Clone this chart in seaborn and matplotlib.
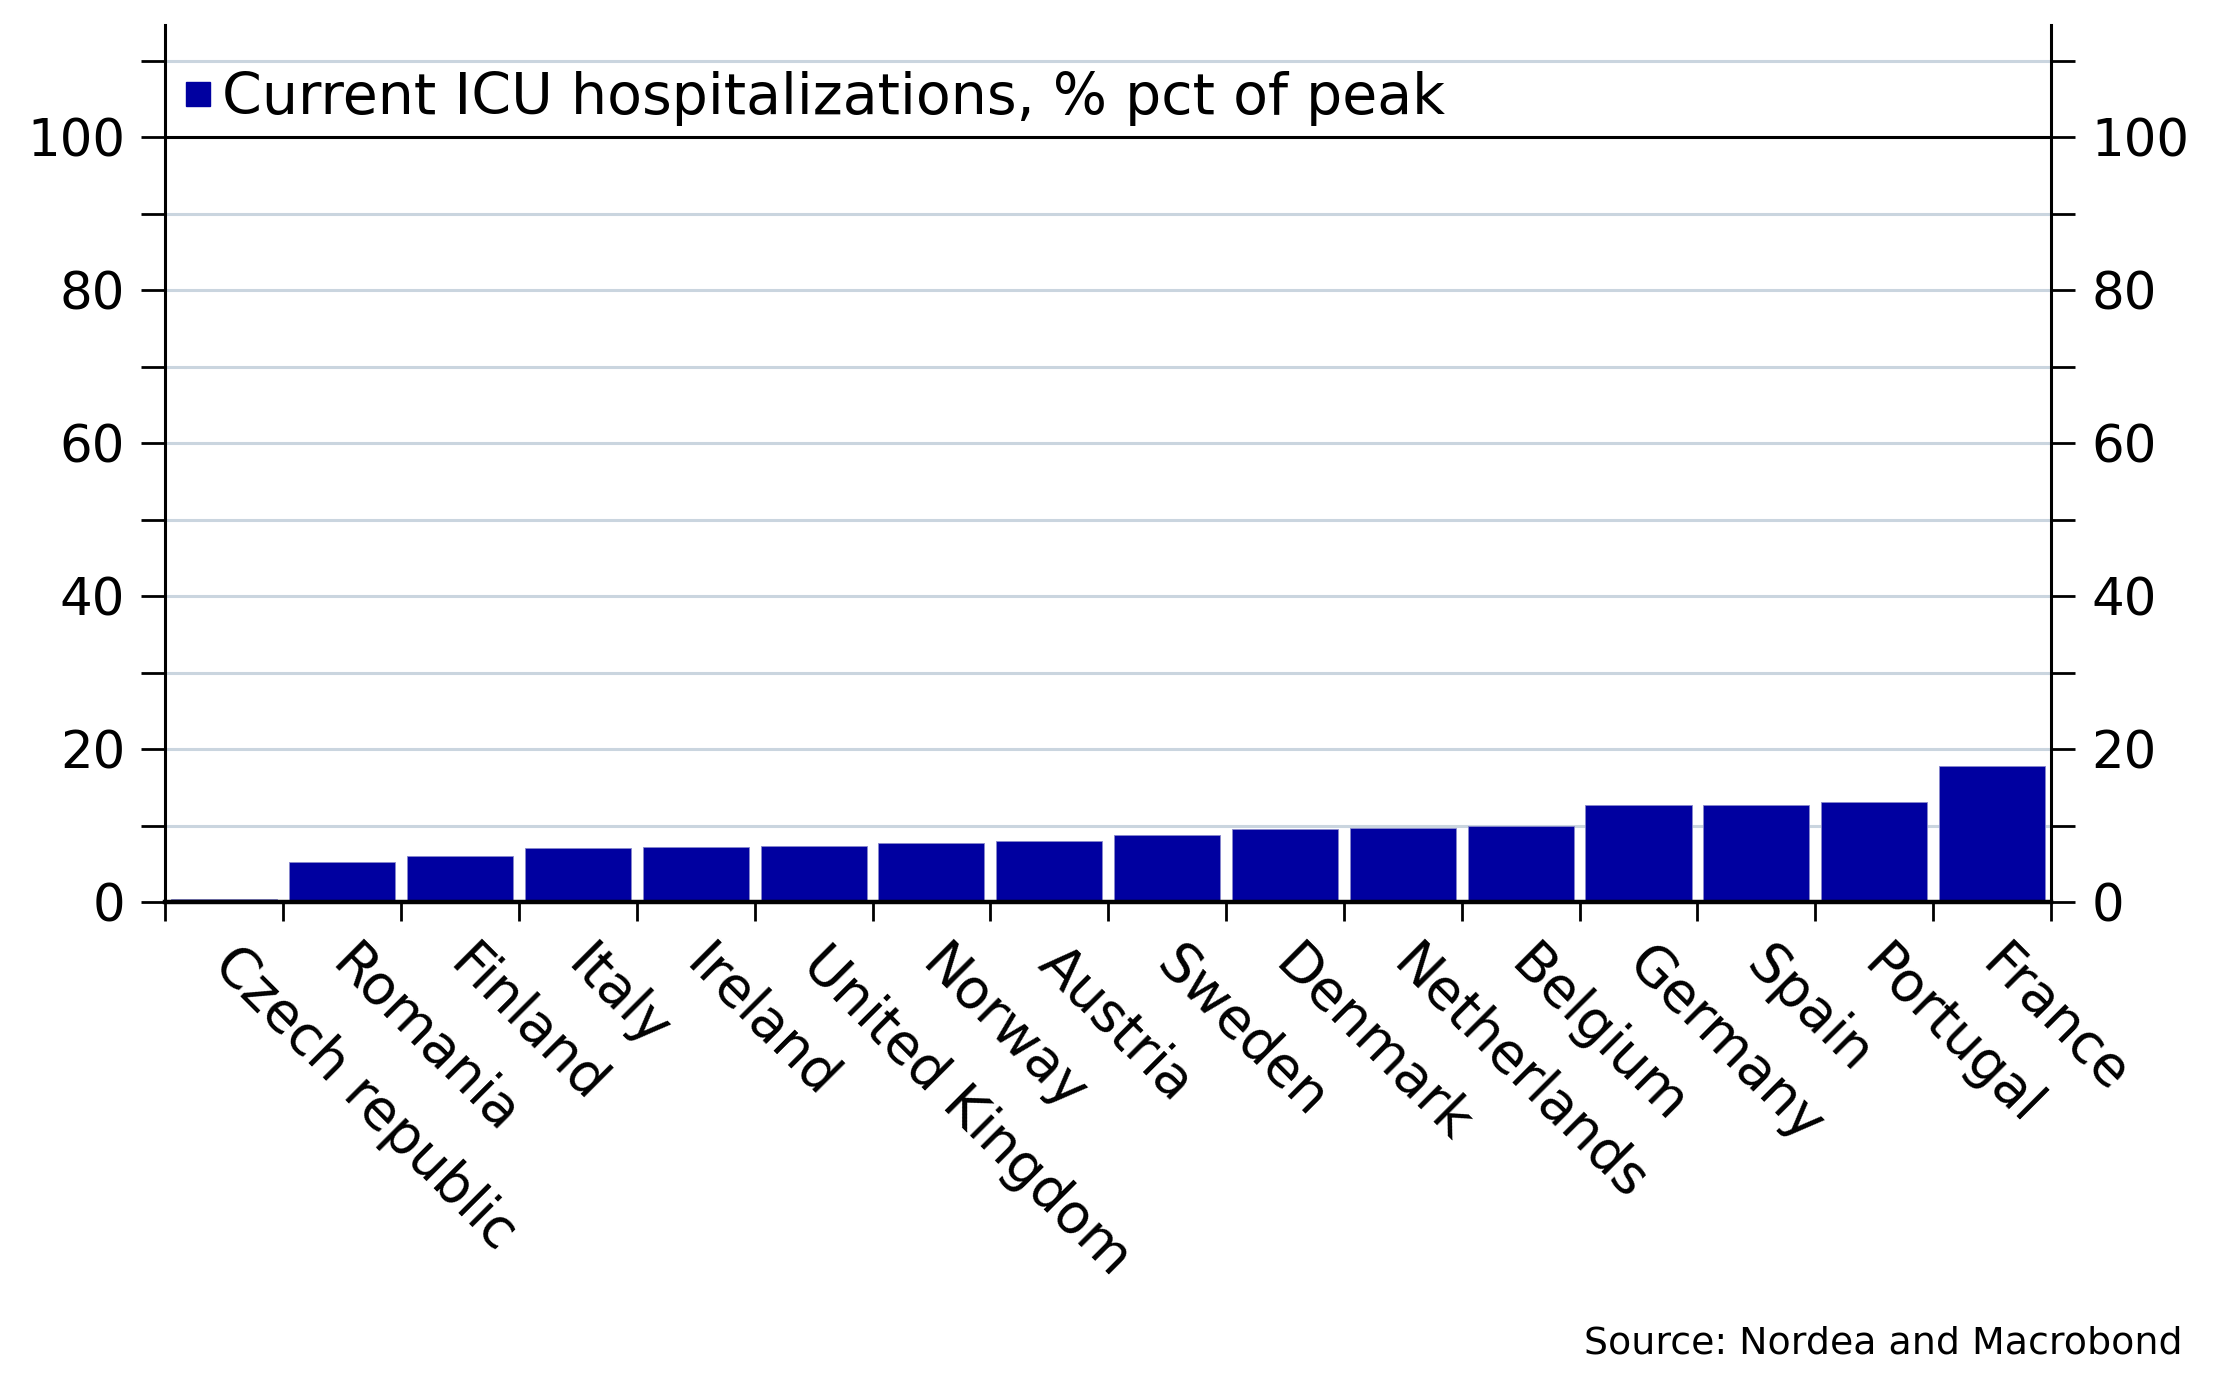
import matplotlib
matplotlib.use("Agg")
import matplotlib.pyplot as plt
from matplotlib.lines import Line2D
from matplotlib.ticker import FixedLocator
import matplotlib.transforms as mtransforms
import seaborn as sns
import pandas as pd

countries = ["Czech republic", "Romania", "Finland", "Italy", "Ireland",
             "United Kingdom", "Norway", "Austria", "Sweden", "Denmark",
             "Netherlands", "Belgium", "Germany", "Spain", "Portugal", "France"]
values = [0.35, 5.2, 6.0, 7.1, 7.2, 7.3, 7.7, 8.0, 8.75, 9.6, 9.75, 10.0,
          12.75, 12.75, 13.1, 17.8]
series_label = "Current ICU hospitalizations, % pct of peak"
source_text = "Source: Nordea and Macrobond"

bar_color = "#0000A0"
grid_color = "#CAD5DF"

sns.set_theme(style="white")
plt.rcParams["font.family"] = ["DejaVu Sans"]
plt.rcParams["text.color"] = "black"
plt.rcParams["xtick.labelcolor"] = "black"
plt.rcParams["ytick.labelcolor"] = "black"

df = pd.DataFrame({"country": countries, "value": values})

fig = plt.figure(figsize=(22.18, 14.0), dpi=100)
ax = fig.add_axes([0.0746, 0.3556, 0.9247 - 0.0746, 0.9818 - 0.3556])

sns.barplot(data=df, x="country", y="value", color=bar_color, saturation=1,
            width=0.9, edgecolor="#8888cc", linewidth=0.6, ax=ax, zorder=3)

ax.set_xlim(-0.5, len(countries) - 0.5)
ax.set_ylim(0, 114.6)
ax.set_xlabel("")
ax.set_ylabel("")

# y ticks
ax.yaxis.set_major_locator(FixedLocator([0, 20, 40, 60, 80, 100]))
ax.yaxis.set_minor_locator(FixedLocator([10, 30, 50, 70, 90, 110]))
ax.tick_params(axis="y", which="both", left=True, right=True, labelleft=True,
               labelright=True, direction="out", length=17, width=2,
               color="black", labelsize=37, pad=12, labelcolor="black")

# gridlines
for yv in [10, 20, 30, 40, 50, 60, 70, 80, 90, 110]:
    ax.axhline(yv, color=grid_color, lw=2.2, zorder=1)
ax.axhline(100, color="black", lw=2.2, zorder=4)

# x ticks: labels at centers, tick marks at boundaries
ax.set_xticks(range(len(countries)))
ax.set_xticklabels(countries, rotation=-45, ha="left", va="top",
                   rotation_mode="anchor", fontsize=39.5, color="black")
ax.set_xticks([i - 0.5 for i in range(len(countries) + 1)], minor=True)
ax.tick_params(axis="x", which="major", length=0, pad=25)
ax.tick_params(axis="x", which="minor", bottom=True, direction="out",
               length=14, width=2, color="black")
offset = mtransforms.ScaledTranslation(17 / 100, 0, fig.dpi_scale_trans)
for lab in ax.get_xticklabels():
    lab.set_transform(lab.get_transform() + offset)

# spines
for s in ["left", "right"]:
    ax.spines[s].set_visible(True)
    ax.spines[s].set_color("black")
    ax.spines[s].set_linewidth(2.2)
ax.spines["bottom"].set_color("black")
ax.spines["bottom"].set_linewidth(3.2)
ax.spines["bottom"].set_zorder(5)
ax.spines["top"].set_visible(False)

# legend
handle = Line2D([], [], marker="s", linestyle="none", markersize=17,
                markerfacecolor=bar_color, markeredgecolor=bar_color)
leg = ax.legend([handle], [series_label], loc="upper left",
                bbox_to_anchor=(0.0, 0.974), frameon=False, fontsize=41,
                handlelength=0.35, handletextpad=0.25, borderaxespad=0.2,
                borderpad=0.2)
for t in leg.get_texts():
    t.set_color("black")

fig.text(0.984, 0.040, source_text, ha="right", va="center", fontsize=27.3,
         color="black")

fig.savefig("out.png", dpi=100, facecolor="white")
